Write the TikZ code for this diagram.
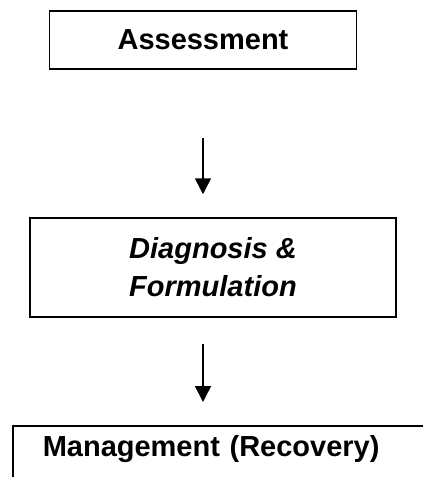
\documentclass[tikz,border=0pt]{standalone}
\usepackage{fontspec}
\setmainfont{Liberation Sans}
\usetikzlibrary{arrows.meta, positioning}

\begin{document}
\begin{tikzpicture}[x=1pt, y=-1pt, >={Triangle[width=16pt,length=16pt]},
    stage/.style={draw, line width=1.5pt, inner sep=0pt, font=\bfseries\fontsize{29}{38}\selectfont},
    flow/.style={->, line width=1.5pt}]
    \useasboundingbox (0,0) rectangle (423,477);
    \clip (0,0) rectangle (423,477);

    \node[stage, minimum width=307pt, minimum height=58pt] (assess) at (203,40) {Assessment};
    \node[stage, minimum width=366pt, minimum height=99pt, align=left,
          font=\bfseries\itshape\fontsize{29}{38}\selectfont] (diag) at (213,267.5) {Diagnosis \&\\Formulation};
    \node[stage, anchor=north west, inner xsep=30pt, inner ysep=9.4pt, text height=21pt, text depth=40pt,
          text width=400pt, align=left] (mgmt) at (12,425) {Management (Recovery)};

    \draw[flow, shorten <=68pt, shorten >=23pt] (assess.south) -- (assess.south |- diag.north);
    \draw[flow, shorten <=26pt, shorten >=23pt] (assess.south |- diag.south) -- (assess.south |- mgmt.north);
\end{tikzpicture}
\end{document}
